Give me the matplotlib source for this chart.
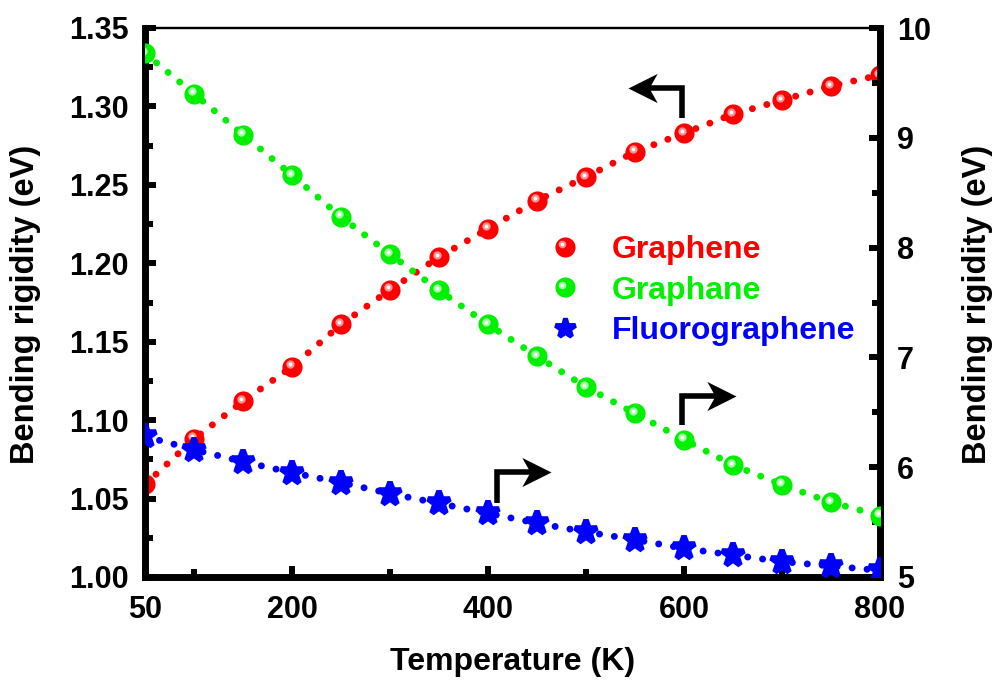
import matplotlib
matplotlib.use("Agg")
import matplotlib.pyplot as plt
from matplotlib.lines import Line2D
from matplotlib.path import Path
from matplotlib.legend_handler import HandlerBase
from matplotlib.transforms import offset_copy

plt.rcParams['font.family'] = ['Liberation Sans', 'DejaVu Sans']
plt.rcParams['font.weight'] = 'bold'

temperature = [50, 100, 150, 200, 250, 300, 350, 400, 450, 500, 550, 600, 650, 700, 750, 800]
graphene = [1.059, 1.088, 1.112, 1.134, 1.161, 1.183, 1.204, 1.222, 1.240, 1.255,
            1.271, 1.283, 1.295, 1.304, 1.313, 1.320]
graphane = [9.77, 9.40, 9.03, 8.66, 8.28, 7.94, 7.61, 7.30, 7.01, 6.73,
            6.49, 6.25, 6.02, 5.84, 5.68, 5.56]
fluorographene = [6.28, 6.16, 6.05, 5.95, 5.86, 5.76, 5.67, 5.58, 5.49, 5.41,
                  5.34, 5.26, 5.20, 5.14, 5.10, 5.06]

x_ticks = [50, 200, 400, 600, 800]
x_minor = [100, 300, 500, 700]
left_ticks = [1.00, 1.05, 1.10, 1.15, 1.20, 1.25, 1.30, 1.35]
right_ticks = [5, 6, 7, 8, 9, 10]
labels = ['Graphene', 'Graphane', 'Fluorographene']

RED = '#ff0000'
GREEN = '#00f000'
BLUE = '#0000ff'
RED_LIGHT = '#ff9090'
GREEN_LIGHT = '#a0ffa0'

fig = plt.figure(figsize=(9.93, 6.81), dpi=100)
ax = fig.add_axes([145/993, 1-577/681, 735/993, 549/681])
ax2 = ax.twinx()

dot = dict(linestyle=(0, (0.01, 2.15)), dash_capstyle='round', linewidth=5)
MS = 14.5

def sphere(a, x, y, color, light):
    a.plot(x, y, color=color, zorder=2, **dot)
    a.plot(x, y, 'o', color=color, ms=MS, mew=0, zorder=3)
    tr1 = offset_copy(a.transData, fig=fig, x=-2.5, y=2.5, units='dots')
    a.plot(x, y, 'o', color=light, ms=6, mew=0, transform=tr1, zorder=4)
    a.plot(x, y, 'o', color='white', ms=2.8, mew=0, transform=tr1, zorder=5)

sphere(ax, temperature, graphene, RED, RED_LIGHT)
sphere(ax2, temperature, graphane, GREEN, GREEN_LIGHT)
ax2.plot(temperature, fluorographene, color=BLUE, zorder=2, **dot)
ax2.plot(temperature, fluorographene, '*', color=BLUE, ms=17, mec=BLUE, mew=4,
         zorder=3)

ax.set_xlim(50, 800)
ax.set_ylim(1.00, 1.35)
ax2.set_ylim(5, 10)
ax.set_xticks(x_ticks)
ax.set_xticks(x_minor, minor=True)
ax.set_yticks(left_ticks)
ax.set_yticks([v + 0.025 for v in left_ticks[:-1]], minor=True)
ax2.set_yticks(right_ticks)
ax2.set_yticks([v + 0.5 for v in right_ticks[:-1]], minor=True)
ax.set_yticklabels([f'{v:.2f}' for v in left_ticks])
ax2.set_yticklabels([str(v) for v in right_ticks])
ax.set_xticklabels([str(v) for v in x_ticks])

for a in (ax, ax2):
    a.tick_params(which='major', direction='in', length=8, width=4.3, labelsize=22)
    a.tick_params(which='minor', direction='in', length=6, width=4.3)
    for s in ('left', 'right', 'bottom'):
        a.spines[s].set_linewidth(4.8)
    a.spines['top'].set_linewidth(1.6)
ax.tick_params(axis='x', which='both', top=False, pad=13)
ax.tick_params(axis='y', which='both', right=False, pad=12)
ax2.tick_params(axis='y', which='both', left=False, pad=12)

ax.set_xlabel('Temperature (K)', fontsize=23, fontweight='bold')
ax.set_ylabel('Bending rigidity (eV)', fontsize=23.5, fontweight='bold')
ax2.set_ylabel('Bending rigidity (eV)', fontsize=23.5, fontweight='bold')
ax.yaxis.set_label_coords(-0.141, 0.496)
ax2.yaxis.set_label_coords(1.112, 0.496)
ax.xaxis.set_label_coords(0.5, -0.128)

# bent arrows: vertical stem, then horizontal shaft with notched head
head_left = Path([(0, 0), (1, 0.5), (0.72, 0), (1, -0.5), (0, 0)],
                 [Path.MOVETO, Path.LINETO, Path.LINETO, Path.LINETO, Path.CLOSEPOLY])
head_right = Path([(0, 0), (-1, 0.5), (-0.72, 0), (-1, -0.5), (0, 0)],
                  [Path.MOVETO, Path.LINETO, Path.LINETO, Path.LINETO, Path.CLOSEPOLY])
arrows = [
    ((598, 1.2926), (598, 1.3117), (543, 1.3117)),
    ((598, 1.0968), (598, 1.1153), (653, 1.1153)),
    ((409, 1.0471), (409, 1.0668), (464, 1.0668)),
]
for start, corner, tip in arrows:
    sgn = 1 if tip[0] > corner[0] else -1
    end = (tip[0] - sgn * 20, tip[1])
    ax.plot([start[0], corner[0], end[0]], [start[1], corner[1], end[1]], color='black',
            lw=4, solid_capstyle='butt', solid_joinstyle='miter', zorder=6)
    ax.plot([tip[0]], [tip[1]], marker=head_right if sgn > 0 else head_left,
            ms=42, color='black', mew=0, zorder=7, ls='none')


class BallHandler(HandlerBase):
    def __init__(self, color, light):
        super().__init__()
        self.color = color
        self.light = light

    def create_artists(self, legend, orig_handle, xdescent, ydescent, width, height,
                       fontsize, trans):
        cx = 0.5 * width - xdescent
        cy = 0.5 * height - ydescent
        out = []
        for c, ms, d in ((self.color, MS, 0.0), (self.light, 5.5, 1.8), ('white', 2.6, 1.8)):
            ln = Line2D([cx - d], [cy + d], marker='o', color=c, ms=ms, mew=0, ls='none')
            ln.set_transform(trans)
            out.append(ln)
        return out


h_red = Line2D([], [], marker='o', color=RED, ls='none', ms=MS, mew=0)
h_green = Line2D([], [], marker='o', color=GREEN, ls='none', ms=MS, mew=0)
h_blue = Line2D([], [], marker='*', color=BLUE, mec=BLUE, mew=3.5, ls='none', ms=15)
leg = ax.legend([h_red, h_green, h_blue], labels, loc='upper left',
                bbox_to_anchor=(0.532, 0.646),
                frameon=False, handlelength=1.0, handletextpad=0.97, labelspacing=0.33,
                borderaxespad=0, prop={'weight': 'bold', 'size': 23},
                handler_map={h_red: BallHandler(RED, RED_LIGHT),
                             h_green: BallHandler(GREEN, GREEN_LIGHT)})
for t, c in zip(leg.get_texts(), (RED, GREEN, BLUE)):
    t.set_color(c)

fig.savefig('out.png', dpi=100)
